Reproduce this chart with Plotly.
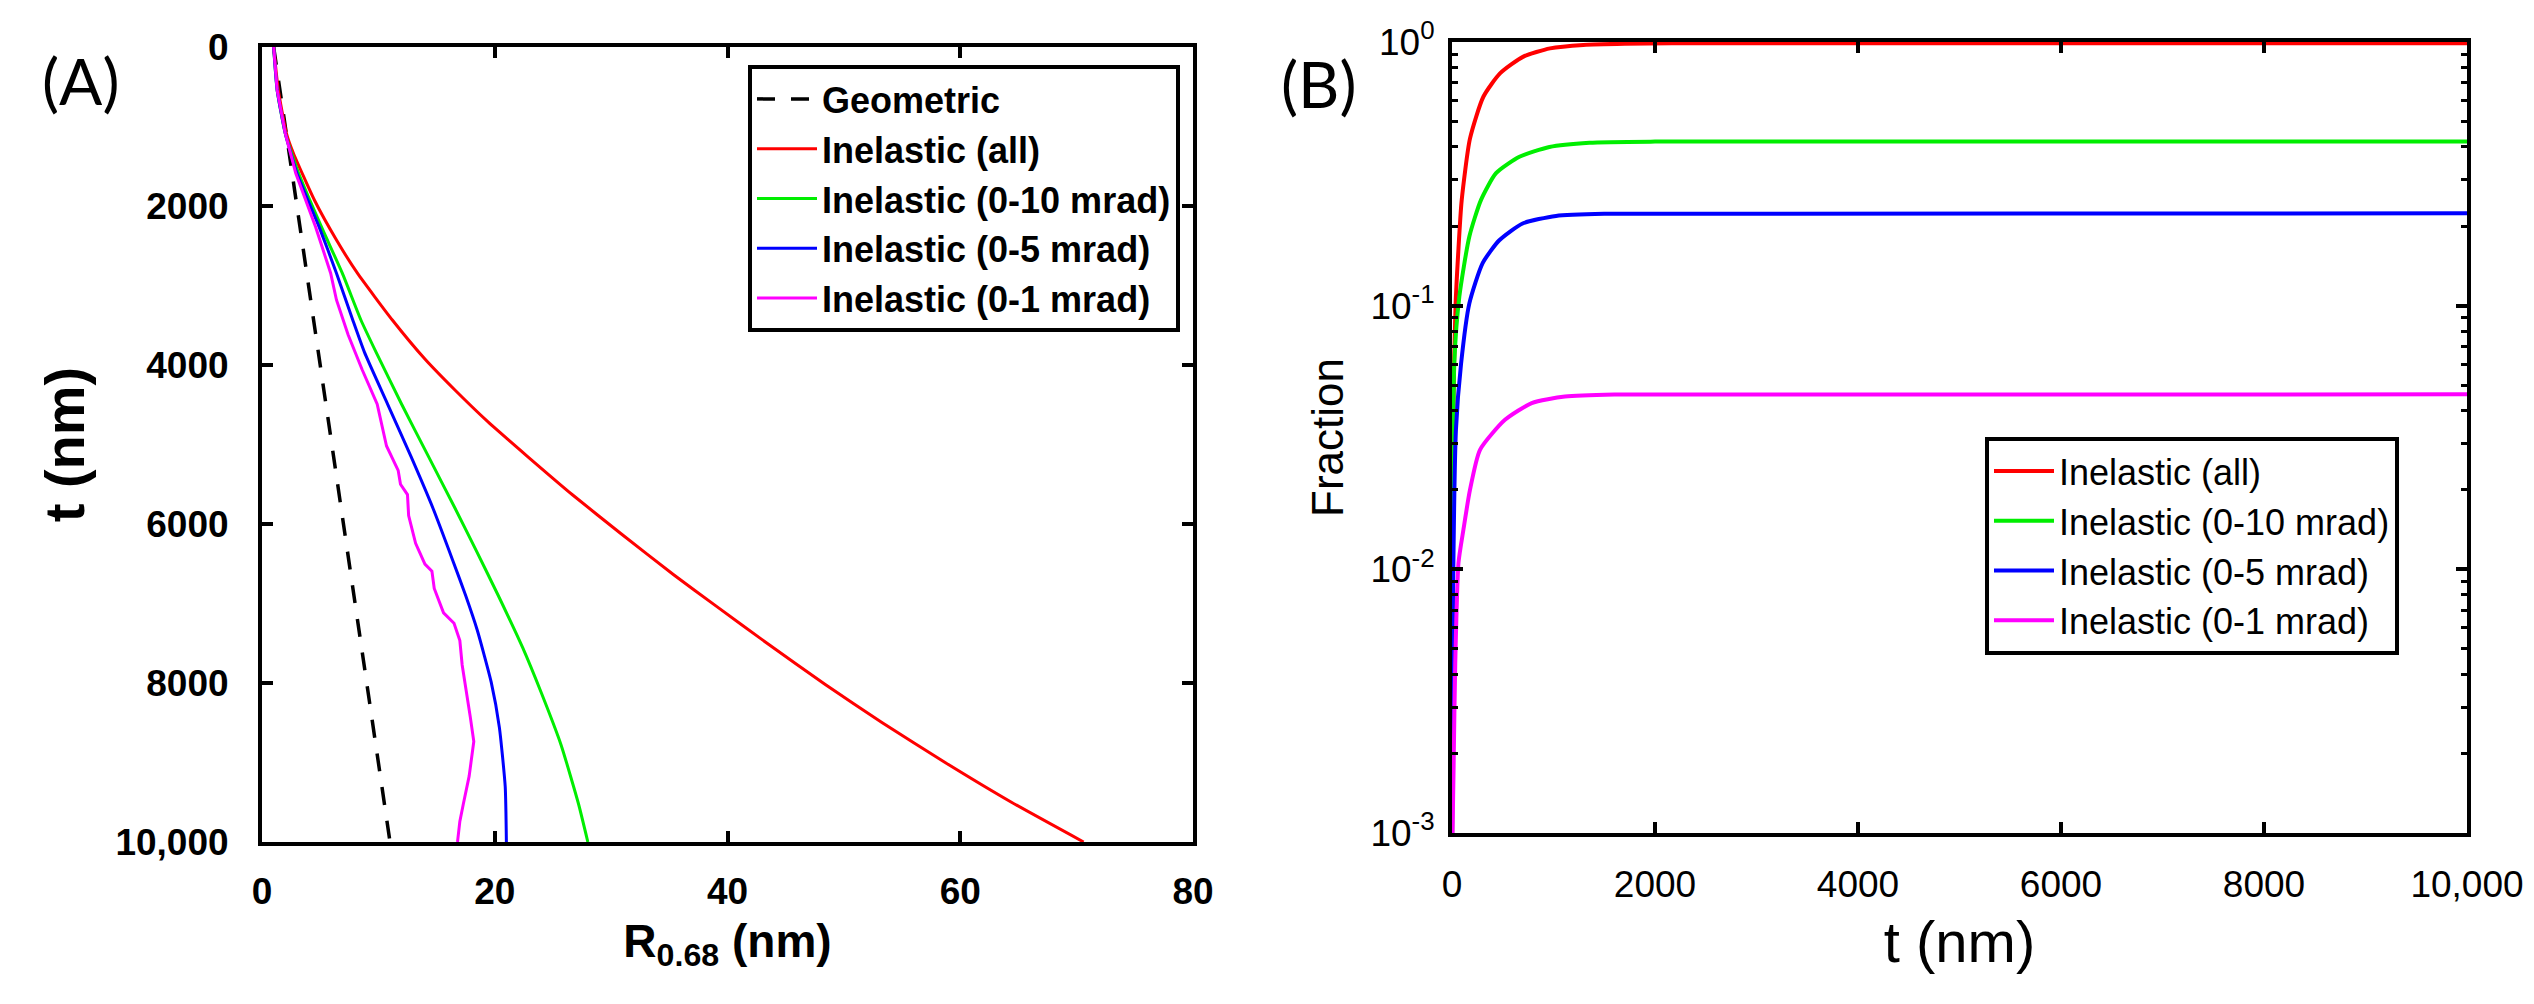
import plotly.graph_objects as go

# ---- panel (A): beam spread R_0.68 versus thickness t ----
geo_t = [0, 5000, 10000]
geo_r = [1.0, 6.0, 11.0]

all_t = [0, 540, 1086, 1337, 1925, 2428, 2845, 3434, 3925, 4318, 4713, 5148,
         5635, 6116, 6641, 7030, 7500, 8020, 8500, 9000, 9500, 10000]
all_r = [1.0, 1.4, 2.1, 2.7, 4.5, 6.4, 8.2, 11.2, 14.0, 16.6, 19.4, 22.8,
         26.7, 30.8, 35.4, 39.0, 43.4, 48.4, 53.3, 58.7, 64.4, 70.6]

m10_t = [0, 540, 1086, 1589, 2260, 2845, 3434, 3838, 4494, 5150, 5805, 6331,
         6899, 7555, 8123, 8779, 9522, 10000]
m10_r = [1.0, 1.3, 2.0, 3.15, 5.1, 6.9, 8.5, 9.8, 12.0, 14.3, 16.6, 18.4,
         20.3, 22.4, 24.0, 25.7, 27.2, 28.0]

m5_t = [0, 540, 1086, 1589, 2260, 2845, 3434, 3838, 4494, 5150, 5805, 6461,
        6899, 7336, 7992, 8561, 9304, 10000]
m5_r = [1.0, 1.3, 2.0, 3.0, 4.9, 6.4, 7.8, 8.8, 10.8, 12.8, 14.7, 16.4,
        17.5, 18.5, 19.7, 20.4, 20.9, 21.0]

m1_t = [0, 540, 1086, 1589, 2260, 2845, 3182, 3620, 4057, 4363, 4494, 5019,
        5325, 5500, 5630, 5893, 6243, 6505, 6593, 6811, 7117, 7249, 7467,
        7773, 8123, 8429, 8735, 9172, 9522, 9741, 10000]
m1_r = [1.0, 1.3, 2.0, 2.9, 4.6, 5.9, 6.4, 7.4, 8.6, 9.5, 9.9, 10.7,
        11.7, 11.9, 12.5, 12.6, 13.2, 14.0, 14.6, 14.8, 15.6, 16.5, 17.0,
        17.2, 17.6, 17.9, 18.2, 17.8, 17.3, 17.0, 16.8]

# ---- panel (B): scattered fraction versus t ----
fa_t = [0, 15, 35, 62, 95, 177, 309, 473, 703, 966, 1294, 1700, 2500, 10000]
fa_f = [0.0008, 0.045, 0.1, 0.16, 0.25, 0.43, 0.62, 0.76, 0.88, 0.946, 0.975,
        0.985, 0.99, 0.99]

f10_t = [0, 10, 23, 72, 171, 286, 434, 664, 960, 1354, 2000, 10000]
f10_f = [0.0008, 0.025, 0.061, 0.108, 0.183, 0.252, 0.318, 0.367, 0.40, 0.415,
         0.419, 0.419]

f5_t = [0, 10, 39, 89, 171, 302, 466, 696, 1025, 1500, 10000]
f5_f = [0.0008, 0.008, 0.034, 0.06, 0.102, 0.145, 0.177, 0.205, 0.219, 0.223,
        0.224]

f1_t = [0, 5, 16, 32, 64, 112, 177, 276, 522, 785, 1113, 1600, 10000]
f1_f = [0.0008, 0.001, 0.0018, 0.0044, 0.0106, 0.0141, 0.020, 0.0284, 0.0369,
        0.0427, 0.0452, 0.046, 0.0461]

names = ["Inelastic (all)", "Inelastic (0-10 mrad)", "Inelastic (0-5 mrad)", "Inelastic (0-1 mrad)"]
colors = ["#ff0000", "#00ee00", "#0000ff", "#ff00ff"]

FONT = "Liberation Sans"
# the page body adds an 8px margin, so the figure is a bit smaller than the window
OFF = 8
W, H = 2534 - 2 * OFF, 1004 - 2 * OFF


def px_x(p):
    return (p - OFF) / W


def px_y(p):
    return 1 - (p - OFF) / H


fig = go.Figure()

fig.add_trace(go.Scatter(x=geo_r, y=geo_t, mode="lines", name="Geometric",
                         line=dict(color="black", width=3.5, dash="18px,16px"),
                         xaxis="x", yaxis="y", legend="legend"))
for xs, ys, nm, c in zip([all_r, m10_r, m5_r, m1_r], [all_t, m10_t, m5_t, m1_t], names, colors):
    shape = "linear" if c == "#ff00ff" else "spline"
    fig.add_trace(go.Scatter(x=xs, y=ys, mode="lines", name=nm,
                             line=dict(color=c, width=3, shape=shape, smoothing=0.5),
                             xaxis="x", yaxis="y", legend="legend"))

for xs, ys, nm, c in zip([fa_t, f10_t, f5_t, f1_t], [fa_f, f10_f, f5_f, f1_f], names, colors):
    fig.add_trace(go.Scatter(x=xs, y=ys, mode="lines", name=nm,
                             line=dict(color=c, width=4, shape="spline", smoothing=0.6),
                             xaxis="x2", yaxis="y2", legend="legend2"))

axis_common = dict(showline=True, linecolor="black", linewidth=4, mirror="ticks",
                   ticks="inside", tickcolor="black", tickwidth=4, ticklen=11,
                   showgrid=False, zeroline=False, automargin=False)

bold_tick = dict(family=FONT, size=37, color="black", weight="bold")
reg_tick = dict(family=FONT, size=37, color="black")

minor_vals = [m * 10 ** e for e in (-3, -2, -1) for m in range(2, 10)]
t_ticks = [0, 2000, 4000, 6000, 8000, 10000]
t_text = ["0", "2000", "4000", "6000", "8000", "10,000"]

fig.update_layout(
    width=W, height=H,
    paper_bgcolor="white", plot_bgcolor="white",
    margin=dict(l=0, r=0, t=0, b=0),
    xaxis=dict(axis_common, domain=[px_x(262), px_x(1193)], anchor="y", range=[0, 80],
               tickvals=[0, 20, 40, 60, 80], tickfont=bold_tick, ticklabelstandoff=14,
               title=dict(text="R<sub>0.68</sub> (nm)", standoff=14,
                          font=dict(family=FONT, size=46, color="black", weight="bold"))),
    yaxis=dict(axis_common, domain=[px_y(842), px_y(47)], anchor="x", range=[10000, 0],
               tickvals=t_ticks, ticktext=t_text,
               tickfont=bold_tick, ticklabelstandoff=22,
               title=dict(text="t (nm)", standoff=14,
                          font=dict(family=FONT, size=56, color="black", weight="bold"))),
    xaxis2=dict(axis_common, domain=[px_x(1452), px_x(2467)], anchor="y2", range=[0, 10000],
                tickvals=t_ticks, ticktext=t_text,
                tickfont=reg_tick, ticklabelstandoff=16,
                title=dict(text="t (nm)", standoff=18,
                           font=dict(family=FONT, size=58, color="black"))),
    yaxis2=dict(axis_common, domain=[px_y(833), px_y(42)], anchor="x2", type="log",
                range=[-3, 0], tickvals=[0.001, 0.01, 0.1, 1],
                ticktext=["10<sup>-3</sup>", "10<sup>-2</sup>", "10<sup>-1</sup>", "10<sup>0</sup>"],
                tickfont=reg_tick, ticklabelstandoff=6,
                minor=dict(tickmode="array", tickvals=minor_vals, ticks="inside",
                           ticklen=6, tickwidth=3, tickcolor="black", showgrid=False),
                title=dict(text="Fraction", standoff=14,
                           font=dict(family=FONT, size=44, color="black"))),
    legend=dict(x=px_x(1180), xanchor="right", y=px_y(65), yanchor="top",
                bgcolor="white", bordercolor="black", borderwidth=4,
                font=dict(family=FONT, size=36, color="black", weight="bold"),
                tracegroupgap=0, itemwidth=60),
    legend2=dict(x=px_x(1985), xanchor="left", y=px_y(437), yanchor="top",
                 bgcolor="white", bordercolor="black", borderwidth=4,
                 font=dict(family=FONT, size=36, color="black"),
                 tracegroupgap=0, itemwidth=60),
    annotations=[
        dict(text="(A)", x=px_x(40), y=px_y(80), xref="paper", yref="paper",
             xanchor="left", yanchor="middle", showarrow=False,
             font=dict(family="Lato", size=64, color="black")),
        dict(text="(B)", x=px_x(1279), y=px_y(84), xref="paper", yref="paper",
             xanchor="left", yanchor="middle", showarrow=False,
             font=dict(family="Lato", size=64, color="black")),
    ],
)

fig.write_html("out.html")
